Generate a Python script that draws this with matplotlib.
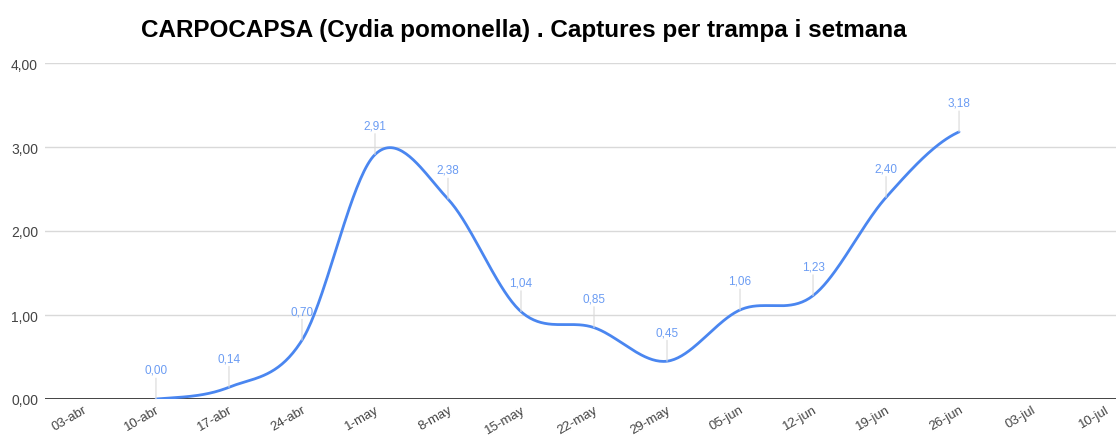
import numpy as np
import matplotlib
matplotlib.use("Agg")
import matplotlib.pyplot as plt

plt.rcParams['font.family'] = ['Liberation Sans', 'DejaVu Sans']

title = "CARPOCAPSA (Cydia pomonella) . Captures per trampa i setmana"
categories = ["03-abr", "10-abr", "17-abr", "24-abr", "1-may", "8-may", "15-may",
              "22-may", "29-may", "05-jun", "12-jun", "19-jun", "26-jun", "03-jul", "10-jul"]
series_cats = ["10-abr", "17-abr", "24-abr", "1-may", "8-may", "15-may",
               "22-may", "29-may", "05-jun", "12-jun", "19-jun", "26-jun"]
values = [0.00, 0.14, 0.70, 2.91, 2.38, 1.04, 0.85, 0.45, 1.06, 1.23, 2.40, 3.18]
y_ticks = [0, 1, 2, 3, 4]

def fmt(v):
    return f"{v:.2f}".replace(".", ",")

def catmull_rom(xs, ys, n=40):
    xs = np.asarray(xs, float); ys = np.asarray(ys, float)
    px = np.concatenate([[2*xs[0]-xs[1]], xs, [2*xs[-1]-xs[-2]]])
    py = np.concatenate([[ys[0]], ys, [ys[-1]]])
    outx, outy = [], []
    for i in range(1, len(px)-2):
        t = np.linspace(0, 1, n, endpoint=False)
        p0, p1, p2, p3 = py[i-1], py[i], py[i+1], py[i+2]
        m1 = (p2 - p0) / 2; m2 = (p3 - p1) / 2
        h00 = 2*t**3 - 3*t**2 + 1; h10 = t**3 - 2*t**2 + t
        h01 = -2*t**3 + 3*t**2; h11 = t**3 - t**2
        outy.append(h00*p1 + h10*m1 + h01*p2 + h11*m2)
        outx.append(px[i] + t*(px[i+1]-px[i]))
    outx.append([xs[-1]]); outy.append([ys[-1]])
    return np.concatenate(outx), np.concatenate(outy)

fig = plt.figure(figsize=(11.16, 4.39), dpi=100)
ax = fig.add_axes([45/1116, 39/439, 1 - 45/1116, 336/439])

xpos = np.array([categories.index(c) for c in series_cats], float)
sx, sy = catmull_rom(xpos, values)
ax.plot(sx, sy, color="#4a86f0", lw=2.0, solid_capstyle="round", zorder=3)

blue_txt = "#6b9cf3"
for x, v in zip(xpos, values):
    ax.annotate("", xy=(x, v), xytext=(0, 15), textcoords="offset points",
                arrowprops=dict(arrowstyle="-", color="#d9d9d9", lw=0.8, shrinkA=0, shrinkB=0))
    ax.annotate(fmt(v), xy=(x, v), xytext=(0, 21), textcoords="offset points",
                ha="center", va="center", fontsize=8.5, color=blue_txt, zorder=4)

ax.set_xlim(-0.52, 14.15)
ax.set_ylim(0, 4)
ax.set_yticks(y_ticks)
ax.set_yticklabels([fmt(v) for v in y_ticks])
ax.set_xticks(range(len(categories)))
ax.set_xticklabels(categories, rotation=30, ha="right", va="top", rotation_mode="anchor")
ax.tick_params(axis="both", length=0, labelsize=10, colors="#444444")
ax.tick_params(axis="x", labelsize=9.5, pad=3)
ax.tick_params(axis="y", pad=5)
for s in ax.spines.values():
    s.set_visible(False)
ax.grid(axis="y", color="#d9d9d9", lw=1)
ax.axhline(0, color="#444444", lw=1.4, zorder=2)
ax.set_axisbelow(True)

fig.text(524/1116, 1 - 30/439, title, ha="center", va="center",
         fontsize=17.5, fontweight="bold", color="#000000")

fig.savefig("out.png", dpi=100)
